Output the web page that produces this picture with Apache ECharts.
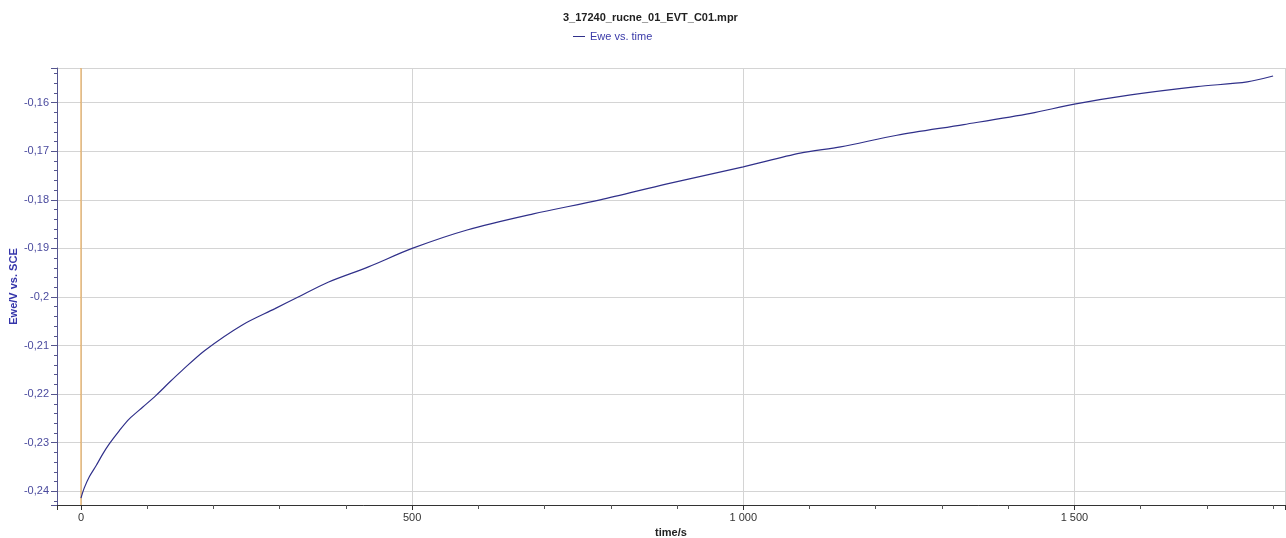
<!DOCTYPE html>
<html><head><meta charset="utf-8">
<script src="https://cdn.jsdelivr.net/npm/echarts@6/dist/echarts.min.js"></script>
<style>html,body{margin:0;padding:0;background:#fff}#c{width:1286px;height:538px}</style>
</head><body><div id="c"></div>
<script>
const chartTitle = '3_17240_rucne_01_EVT_C01.mpr';
const seriesName = 'Ewe vs. time';
const xName = 'time/s';
const yName = 'Ewe/V vs. SCE';
const markerTime = [0];
const timeS = [0, 5, 13, 23, 33, 43, 58, 73, 93, 113, 134, 152, 187, 243, 293, 328, 374, 434, 500, 583, 683, 784, 885, 1000, 1086, 1147, 1232, 1333, 1434, 1500, 1585, 1685, 1761, 1800];
const eweV = [-0.2414, -0.2393, -0.2369, -0.2347, -0.2323, -0.2302, -0.2275, -0.2251, -0.2227, -0.2203, -0.2175, -0.2152, -0.2110, -0.2058, -0.2024, -0.2000, -0.1969, -0.1938, -0.1900, -0.1862, -0.1829, -0.1800, -0.1767, -0.1732, -0.1704, -0.1691, -0.1667, -0.1645, -0.1622, -0.1603, -0.1584, -0.1567, -0.1557, -0.1545];

const yMin = -0.24282, yMax = -0.15286;
const pts = timeS.map((t, i) => [t, eweV[i]]);
const fontFam = '"Liberation Sans", Arial, sans-serif';
const chart = echarts.init(document.getElementById('c'), null, {renderer: 'canvas'});
chart.setOption({
  animation: false,
  backgroundColor: '#fff',
  title: {
    text: chartTitle, left: 563, top: 12, padding: 0,
    textStyle: {fontFamily: fontFam, fontSize: 11, fontWeight: 'bold', color: '#222'}
  },
  legend: {
    data: [{name: seriesName, icon: 'rect'}], left: 573, top: 31, padding: 0,
    itemWidth: 12, itemHeight: 1,
    textStyle: {fontFamily: fontFam, fontSize: 11, color: '#3a3aa8'}
  },
  grid: {left: 57, right: 1, top: 68, bottom: 33, containLabel: false, outerBoundsMode: 'none'},
  xAxis: {
    type: 'value', min: -36.2, max: 1818, splitNumber: 4, minInterval: 500, maxInterval: 500,
    name: xName, nameLocation: 'middle', nameGap: 22, nameMoveOverlap: false,
    nameTextStyle: {fontFamily: fontFam, fontSize: 11, fontWeight: 'bold', color: '#222'},
    axisLine: {show: true, onZero: false, lineStyle: {color: '#333', width: 1}},
    axisTick: {show: true, length: 5, lineStyle: {color: '#333'}},
    minorTick: {show: true, splitNumber: 5, length: 4, lineStyle: {color: '#555'}},
    axisLabel: {
      showMinLabel: false, showMaxLabel: false, margin: 7,
      fontFamily: fontFam, fontSize: 11, color: '#333',
      formatter: v => String(Math.round(v)).replace(/\B(?=(\d{3})+(?!\d))/g, ' ')
    },
    splitLine: {show: true, lineStyle: {color: '#d4d4d4', width: 1}}
  },
  yAxis: {
    type: 'value', min: yMin, max: yMax, splitNumber: 9, minInterval: 0.01, maxInterval: 0.01,
    name: yName, nameLocation: 'middle', nameGap: 38, nameMoveOverlap: false,
    nameTextStyle: {fontFamily: fontFam, fontSize: 11, fontWeight: 'bold', color: '#3535aa'},
    axisLine: {show: true, onZero: false, lineStyle: {color: '#55558f', width: 1}},
    axisTick: {show: true, length: 6, lineStyle: {color: '#55558f'}},
    minorTick: {show: true, splitNumber: 5, length: 3, lineStyle: {color: '#55558f'}},
    axisLabel: {
      showMinLabel: false, showMaxLabel: false, margin: 8,
      fontFamily: fontFam, fontSize: 11, color: '#4a4a9e',
      formatter: v => String(+v.toFixed(4)).replace('.', ',')
    },
    splitLine: {show: true, lineStyle: {color: '#d4d4d4', width: 1}}
  },
  series: [{
    name: 'marker', type: 'line', silent: true, symbol: 'none', z: 3,
    data: [[markerTime[0], yMin], [markerTime[0], yMax]],
    lineStyle: {color: '#e8a040', width: 1}
  }, {
    name: seriesName, type: 'line', data: pts, symbol: 'none', smooth: 0.3, z: 4,
    lineStyle: {color: '#30308a', width: 1.2}, itemStyle: {color: '#30308a'}
  }]
});
</script></body></html>
